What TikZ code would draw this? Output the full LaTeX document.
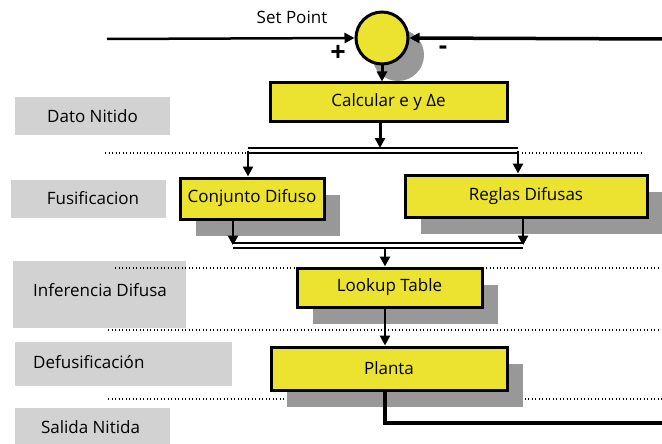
\documentclass[tikz,border=0pt]{standalone}
\usepackage{fontspec}
\setmainfont{Open Sans}
\usetikzlibrary{arrows.meta}
\definecolor{boxyellow}{RGB}{236,226,48}
\definecolor{shadowgray}{RGB}{152,152,152}
\definecolor{labelgray}{RGB}{210,210,210}
\tikzset{
  blockbox/.style={draw=black, line width=3pt, fill=boxyellow, inner sep=0pt, font=\fontsize{17}{20}\selectfont},
  withshadow/.style={preaction={fill=shadowgray, transform canvas={xshift=16pt, yshift=-17pt}}},
  arr/.style={line width=2.5pt, -{Triangle[length=10pt,width=10pt]}},
  bar/.style={double, line width=1.8pt, double distance=3pt},
  dotline/.style={line width=1.3pt, dash pattern=on 1.3pt off 2.2pt},
  lbltext/.style={font=\fontsize{17}{20}\selectfont, inner sep=0pt},
}
\begin{document}
\begin{tikzpicture}[x=1pt,y=-1pt]
\useasboundingbox (0,0) rectangle (662,444);
% label boxes
\fill[labelgray] (15,97) rectangle (170,135);
\fill[labelgray] (11,180) rectangle (166,218);
\fill[labelgray] (13,261) rectangle (186,328);
\fill[labelgray] (15,342) rectangle (232,386);
\fill[labelgray] (15,408) rectangle (170,450);
\node[lbltext] (l1) at (92.5,116) {Dato Nitido};
\node[lbltext] (l2) at (93,198) {Fusificacion};
\node[lbltext] (l3) at (100,290) {Inferencia Difusa};
\node[lbltext, anchor=west] (l4) at (33,362) {Defusificación};
\node[lbltext] (l5) at (90.5,427) {Salida Nitida};
% dotted separators
\draw[dotline] (105,153) -- (643,153);
\draw[dotline] (115,268) -- (660,268);
\draw[dotline] (108,330) -- (660,330);
\draw[dotline] (108,399) -- (662,399);
% summing junction
\fill[shadowgray] (398,55) circle (26);
\node[draw=black, line width=3pt, fill=boxyellow, circle, minimum size=52pt, inner sep=0pt] (sum) at (382,38) {};
\node[lbltext] (sp) at (292,17) {Set Point};
\node[font=\bfseries\fontsize{27}{29}\selectfont, inner sep=0pt] (plus) at (338,53) {+};
\node[font=\bfseries\fontsize{26}{28}\selectfont, inner sep=0pt] (minus) at (443,50) {-};
% blocks
\node[blockbox, minimum width=237pt, minimum height=39pt] (calc) at (388.5,102.5) {Calcular e y Δe};
\node[blockbox, withshadow, minimum width=144pt, minimum height=41pt] (conj) at (252,198.5) {Conjunto Difuso};
\node[blockbox, withshadow, minimum width=242pt, minimum height=42pt] (reglas) at (526,196) {Reglas Difusas};
\node[blockbox, withshadow, minimum width=185pt, minimum height=39pt] (lookup) at (389.5,287.5) {Lookup Table};
\node[blockbox, withshadow, minimum width=236pt, minimum height=43pt] (planta) at (389,368.5) {Planta};
% coordinates
\coordinate (inL) at (107,39);
\coordinate (inR) at (662,39);
\coordinate (tbL) at (248,150.5);
\coordinate (tbR) at (518,150.5);
\coordinate (tbM) at (380,148);
\coordinate (bbL) at (233,245.5);
\coordinate (bbR) at (523,245.5);
\coordinate (bbM) at (385,248);
\coordinate (fb) at (662,423);
% connectors
\draw[arr] (inL) -- (sum.west);
\draw[arr, line width=3.5pt] (inR) -- (sum.east);
\draw[arr, line width=3pt] (sum.south) -- (sum.south |- calc.north);
\draw[arr, line width=3pt] (tbM |- calc.south) -- (tbM);
\draw[bar] (tbL) -- (tbR);
\draw[arr] (tbL) -- (tbL |- conj.north);
\draw[arr] (tbR) -- (tbR |- reglas.north);
\draw[arr] (bbL |- conj.south) -- (bbL);
\draw[arr] (bbR |- reglas.south) -- (bbR);
\draw[bar] (bbL) -- (bbR);
\draw[arr] (bbM) -- (bbM |- lookup.north);
\draw[arr] (bbM |- lookup.south) -- (bbM |- planta.north);
\draw[line width=4pt] (bbM |- planta.south) |- (fb);
\end{tikzpicture}
\end{document}
